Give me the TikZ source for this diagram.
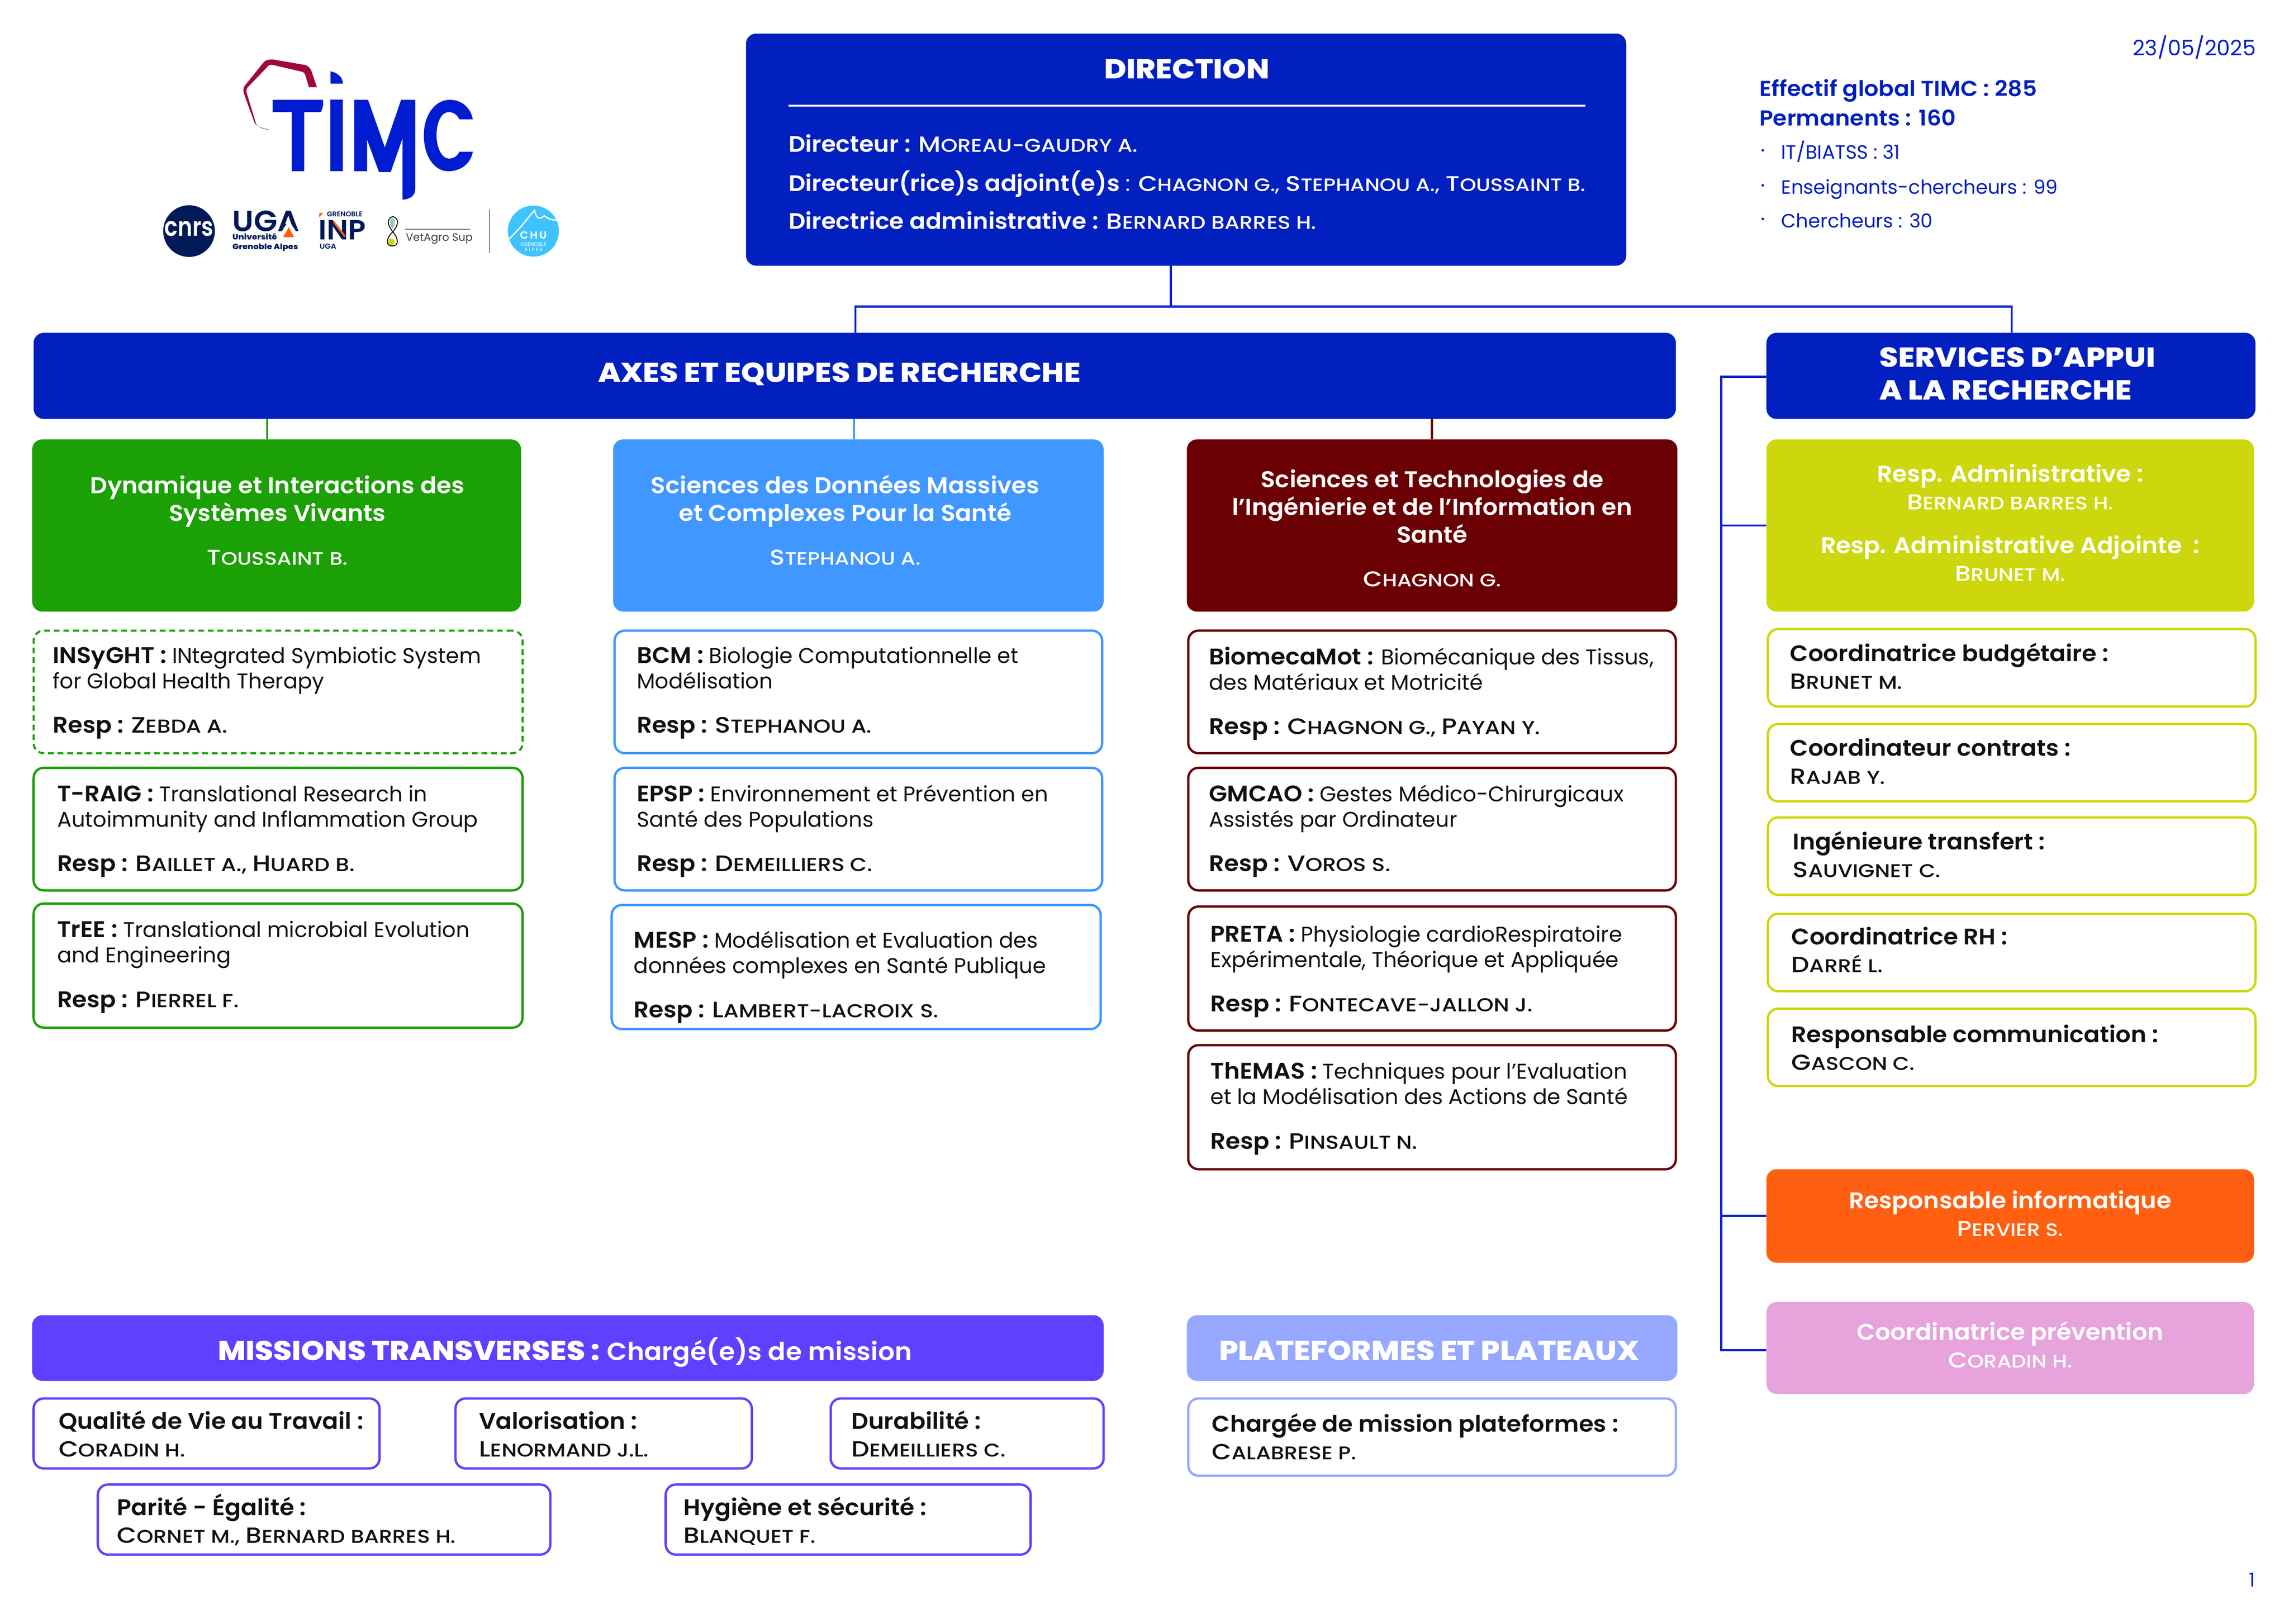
\documentclass[tikz,border=0pt]{standalone}
\usepackage{fontspec}
\setmainfont{Poppins}[BoldFont={Poppins SemiBold}]
\newfontfamily\fxb{Poppins ExtraBold}[FakeStretch=1.1]
\newfontfamily\fsb{Poppins SemiBold}[FakeStretch=1.05]
\newfontfamily\fmd{Poppins Medium}[FakeStretch=1.16]
\definecolor{dirblue}{HTML}{021FBF}
\definecolor{conblue}{HTML}{0A1FD0}
\definecolor{logoblue}{HTML}{001CD1}
\definecolor{logored}{HTML}{A0063F}
\definecolor{navy}{HTML}{001A57}
\definecolor{gGreen}{HTML}{1BA005}
\definecolor{gBlue}{HTML}{3F97FF}
\definecolor{gRed}{HTML}{6B0004}
\definecolor{gYel}{HTML}{CCD80D}
\definecolor{gOra}{HTML}{FF5F11}
\definecolor{gPink}{HTML}{E6A3DC}
\definecolor{gPur}{HTML}{5F40FF}
\definecolor{gPeri}{HTML}{96A8FF}
\definecolor{chu}{HTML}{3FC3FF}
\definecolor{ink}{HTML}{111111}
\def\bscale{1}
\def\nmsize{15}
\makeatletter
\renewcommand\textbf[1]{{\fsb\fontsize{\fpeval{\bscale*\f@size}}{\f@baselineskip}\selectfont #1}}
\newcommand\nm[2]{{\fmd\fontsize{\nmsize}{\f@baselineskip}\selectfont #1\fontsize{\fpeval{0.84*\nmsize}}{\f@baselineskip}\selectfont #2}}
\makeatother
\tikzset{
  boxbase/.style={rectangle,rounded corners=7pt,inner sep=0pt,outer sep=0pt},
  solidb/.style={boxbase,fill=#1},
  lineb/.style={boxbase,draw=#1,line width=1.6pt,fill=white},
  dashb/.style={boxbase,draw=#1,line width=1.4pt,fill=white,dash pattern=on 4pt off 2.6pt},
  body/.style={font=\def\bscale{1.06}\def\nmsize{15.3}\fontsize{14.6}{17.4}\selectfont,text=ink,align=left,anchor=base west,inner sep=0pt},
  two/.style={font=\def\bscale{1.03}\def\nmsize{15}\fontsize{15}{19}\selectfont,text=ink,align=left,anchor=base west,inner sep=0pt},
  head/.style={font=\def\nmsize{14.7}\fontsize{15.6}{19}\selectfont,text=white,align=center,anchor=base,inner sep=0pt},
  dline/.style={font=\def\bscale{1.01}\def\nmsize{15}\fontsize{15.2}{15.2}\selectfont,text=white,anchor=base west,inner sep=0pt},
  title/.style={font=\fxb\fontsize{18.8}{20}\selectfont,text=white,inner sep=0pt,anchor=base},
  infoline/.style={font=\fontsize{13.2}{13.2}\selectfont,text=dirblue,anchor=base west,inner sep=0pt},
  conn/.style={line width=1.5pt,draw=conblue},
}
\newcommand\bx[6]{%
  \pgfmathsetmacro\bw{#5-#3}\pgfmathsetmacro\bh{#6-#4}%
  \pgfmathsetmacro\bcx{(#3+#5)/2}\pgfmathsetmacro\bcy{(#4+#6)/2}%
  \node[#1,minimum width=\bw pt,minimum height=\bh pt] (#2) at (\bcx,\bcy) {};}
\newcommand\tx[5]{\node[#1] (#2) at (#3,{#4+1}) {#5};}
\begin{document}
\begin{tikzpicture}[x=1pt,y=-1pt]
\useasboundingbox (0,0) rectangle (1568,1112.5);
% ---------- logo
\begin{scope}[shift={(94.7,25.25)},x=0.2023pt,y=-0.1052pt]
\fill[logored] (605,328) -- (585,215) .. controls (575,185) and (565,182) .. (555,180) -- (455,147)
  .. controls (438,147) and (430,155) .. (425,165) -- (360,320) .. controls (355,340) and (355,350) .. (358,370)
  -- (390,540) .. controls (395,580) and (410,590) .. (445,605) -- (440,605) .. controls (415,595) and (402,585) .. (398,560)
  -- (368,370) .. controls (364,345) and (366,335) .. (375,320) -- (440,190) .. controls (445,182) and (450,180) .. (458,184)
  -- (550,225) .. controls (560,230) and (563,235) .. (565,245) -- (578,328) -- cycle;
\fill[logoblue] (455,410) -- (625,410) .. controls (628,440) and (625,465) .. (618,490) -- (562,490) -- (562,875) -- (520,875) -- (520,490) -- (455,490) -- cycle;
\fill[logoblue] (651,408) rectangle (693,875);
\fill[logoblue] (651,225) .. controls (675,232) and (693,265) .. (693,305) -- (651,305) -- cycle;
\fill[logoblue] (731,410) -- (778,410) -- (835,720) -- (890,410) -- (938,410) -- (938,990)
  .. controls (938,1035) and (920,1058) .. (895,1060) -- (895,660) -- (855,880) -- (815,880) -- (775,670) -- (775,875) -- (731,875) -- cycle;
\fill[logoblue] (1133,537) -- (1087,537) .. controls (1080,505) and (1065,490) .. (1052,490)
  .. controls (1025,490) and (1010,560) .. (1010,640) .. controls (1010,730) and (1030,793) .. (1052,793)
  .. controls (1068,793) and (1082,775) .. (1087,748) -- (1133,748) .. controls (1125,830) and (1090,875) .. (1050,875)
  .. controls (1000,875) and (967,770) .. (967,640) .. controls (967,510) and (1005,410) .. (1055,410)
  .. controls (1095,410) and (1125,460) .. (1133,537) -- cycle;
% cnrs
\node[circle,fill=navy,minimum size=35.4pt,inner sep=0pt] (cnrs) at (172,1265) {};
\node[text=white,inner sep=0pt,font=\fsb\fontsize{18}{18}\selectfont,xscale=0.8] (cnrst) at (172,1250) {cnrs};
% UGA
\node[text=navy,inner sep=0pt,anchor=base west,font=\fsb\fontsize{20}{20}\selectfont] (uga) at (318,1268) {UGA};
\fill[white] (510,1195) -- (540,1285) -- (480,1285) -- cycle;
\fill[gOra] (510,1240) -- (528,1305) -- (490,1305) -- cycle;
\node[text=navy,inner sep=0pt,anchor=base west,font=\fxb\fontsize{5.2}{6.6}\selectfont,align=left] (ugat) at (318,1385) {Université\\Grenoble Alpes};
% INP
\node[text=navy,inner sep=0pt,anchor=base west,font=\bfseries\fontsize{4.8}{5}\selectfont] (inpg) at (638,1172) {GRENOBLE};
\fill[gOra] (613,1175) -- (613,1146) -- (626,1146) -- cycle;
\node[text=navy,inner sep=0pt,anchor=base west,font=\fsb\fontsize{19}{19}\selectfont] (inp) at (610,1322) {INP};
\draw[gOra,line width=1.3pt] (662,1205) -- (700,1300);
\node[text=navy,inner sep=0pt,anchor=base west,font=\fsb\fontsize{5}{5.5}\selectfont] (inpu) at (613,1382) {UGA};
% VetAgro
\draw[black,line width=0.6pt] (862,1170) .. controls (835,1190) and (850,1240) .. (862,1270) .. controls (880,1310) and (885,1360) .. (860,1362)
  .. controls (835,1360) and (840,1310) .. (862,1270) .. controls (875,1240) and (890,1190) .. (862,1170) -- cycle;
\fill[chu!40!gray!60] (860,1180) .. controls (850,1190) and (850,1230) .. (860,1250) .. controls (870,1230) and (875,1190) .. (860,1180) -- cycle;
\node[circle,fill=gYel,minimum size=4.6pt,inner sep=0pt] (vetdot) at (857,1335) {};
\draw[gray,line width=0.8pt] (904,1253) -- (1124,1253);
\node[text=ink!80,inner sep=0pt,anchor=base west,font=\fontsize{7.4}{8}\selectfont] (vet) at (905,1330) {VetAgro Sup};
\draw[gray,line width=0.6pt] (1190,1125) -- (1190,1405);
% CHU
\node[circle,fill=chu,minimum size=35pt,inner sep=0pt] (chuc) at (1338,1265) {};
\draw[white,line width=0.9pt,line cap=round] (1250,1325) .. controls (1290,1260) and (1330,1150) .. (1342,1130) .. controls (1348,1190) and (1360,1190) .. (1375,1165) .. controls (1385,1180) and (1400,1200) .. (1425,1190);
\node[text=white,inner sep=0pt,font=\fsb\fontsize{7}{7}\selectfont] (chut) at (1338,1292) {C\,H\,U};
\node[text=white,inner sep=0pt,font=\fontsize{3.6}{4}\selectfont] (chug) at (1338,1350) {GRENOBLE};
\node[text=white,inner sep=0pt,font=\fontsize{3.2}{4}\selectfont] (chua) at (1338,1385) {A L P E S};
\end{scope}
% ---------- top right
\tx{font=\fontsize{14.6}{14.6}\selectfont,text=conblue,anchor=base east,inner sep=0pt}{date}{1545.5}{37}{23/05/2025}
\tx{font=\def\bscale{1.01}\fontsize{14.6}{20}\selectfont,text=dirblue,align=left,anchor=base west,inner sep=0pt}{eff}{1205}{85}{\textbf{Effectif global TIMC : 285}\\\textbf{Permanents : 160}}
\tx{infoline}{ef1}{1220}{108}{IT/BIATSS : 31}
\tx{infoline}{ef2}{1220}{132}{Enseignants-chercheurs : 99}
\tx{infoline}{ef3}{1220}{155}{Chercheurs : 30}
\foreach \yy in {103,127,150} \fill[dirblue] (1207.5,\yy) circle (0.9pt);
\tx{font=\fontsize{13}{13}\selectfont,text=conblue,anchor=base east,inner sep=0pt}{pg}{1545}{1086}{1}
% ---------- boxes
\bx{solidb=dirblue}{direction}{511}{23}{1114}{182}
\bx{solidb=dirblue}{axes}{23}{228}{1148}{287}
\bx{solidb=dirblue}{services}{1210}{228}{1545}{287}
\bx{solidb=gGreen}{hgreen}{22}{301}{357}{419}
\bx{solidb=gBlue}{hblue}{420}{301}{756}{419}
\bx{solidb=gRed}{hred}{813}{301}{1149}{419}
\bx{solidb=gYel}{hyel}{1210}{301}{1544}{419}
\bx{solidb=gOra}{hora}{1210}{801}{1544}{865}
\bx{solidb=gPink}{hpink}{1210}{892}{1544}{955}
\bx{solidb=gPur}{missions}{22}{901}{756}{946}
\bx{solidb=gPeri}{plateformes}{813}{901}{1149}{946}
\bx{dashb=gGreen}{insyght}{23}{432}{358}{516}
\bx{lineb=gGreen}{traig}{23}{526}{358}{610}
\bx{lineb=gGreen}{tree}{23}{619}{358}{704}
\bx{lineb=gBlue}{bcm}{421}{432}{755}{516}
\bx{lineb=gBlue}{epsp}{421}{526}{755}{610}
\bx{lineb=gBlue}{mesp}{419}{620}{754}{705}
\bx{lineb=gRed}{biomeca}{814}{432}{1148}{516}
\bx{lineb=gRed}{gmcao}{814}{526}{1148}{610}
\bx{lineb=gRed}{preta}{814}{621}{1148}{706}
\bx{lineb=gRed}{themas}{814}{716}{1148}{801}
\bx{lineb=gYel}{budget}{1211}{431}{1545}{484}
\bx{lineb=gYel}{contrats}{1211}{496}{1545}{549}
\bx{lineb=gYel}{transfert}{1211}{560}{1545}{613}
\bx{lineb=gYel}{rh}{1211}{626}{1545}{679}
\bx{lineb=gYel}{comm}{1211}{691}{1545}{744}
\bx{lineb=gPur}{qvt}{23}{958}{260}{1006}
\bx{lineb=gPur}{valo}{312}{958}{515}{1006}
\bx{lineb=gPur}{dura}{569}{958}{756}{1006}
\bx{lineb=gPur}{parite}{67}{1017}{377}{1065}
\bx{lineb=gPur}{hygiene}{456}{1017}{706}{1065}
\bx{lineb=gPeri}{charge}{814}{958}{1148}{1011}
% ---------- connectors
\coordinate (busJ) at (802,210);
\coordinate (busL) at (586,210);
\coordinate (busR) at (1378,210);
\coordinate (sideT) at (1179,258);
\coordinate (sideB) at (1179,925);
\coordinate (cg) at (183,287);
\coordinate (cb) at (585,287);
\coordinate (cr) at (981,287);
\draw[conn] (direction.south -| busJ) -- (busJ);
\draw[conn] (axes.north -| busL) -- (busL) -- (busR) -- (services.north -| busR);
\draw[conn,draw=gGreen] (cg) -- (hgreen.north -| cg);
\draw[conn,draw=gBlue] (cb) -- (hblue.north -| cb);
\draw[conn,draw=gRed] (cr) -- (hred.north -| cr);
\draw[conn] (services.west |- sideT) -- (sideT) -- (sideB) -- (hpink.west |- sideB);
\draw[conn] (sideT |- hyel.west) -- (hyel.west);
\draw[conn] (sideT |- hora.west) -- (hora.west);
% ---------- texts: direction
\tx{title}{tdir}{813}{53}{DIRECTION}
\draw[white,line width=1.3pt] (540,72.5) coordinate (ra) -- (1086,72.5) coordinate (rb);
\tx{dline}{d1}{540}{103}{\textbf{Directeur :} \nm{M}{OREAU-GAUDRY A.}}
\tx{dline}{d2}{540}{130}{\textbf{Directeur(rice)s adjoint(e)s} : {\def\nmsize{14.6}\nm{C}{HAGNON G.,} \nm{S}{TEPHANOU A.,} \nm{T}{OUSSAINT B.}}}
\tx{dline}{d3}{540}{156}{\textbf{Directrice administrative :} \nm{B}{ERNARD BARRES H.}}
% headers
\tx{title}{taxes}{575}{261}{AXES ET EQUIPES DE RECHERCHE}
\tx{title,font=\fxb\fontsize{18.8}{22.5}\selectfont,align=left}{tserv}{1382}{273}{SERVICES D’APPUI\\A LA RECHERCHE}
\tx{head}{tg}{190}{386}{\textbf{Dynamique et Interactions des}\\\textbf{Systèmes Vivants}\\[11pt]\nm{T}{OUSSAINT B.}}
\tx{head}{tb}{579}{386}{\textbf{Sciences des Données Massives}\\\textbf{et Complexes Pour la Santé}\\[11pt]\nm{S}{TEPHANOU A.}}
\tx{head}{tr}{981}{401}{\textbf{Sciences et Technologies de}\\\textbf{l’Ingénierie et de l’Information en}\\\textbf{Santé}\\[11pt]\nm{C}{HAGNON G.}}
\tx{head}{ty}{1377}{397}{\textbf{Resp. Administrative :}\\\nm{B}{ERNARD BARRES H.}\\[11pt]\textbf{Resp. Administrative Adjointe~ :}\\\nm{B}{RUNET M.}}
\tx{head}{to}{1377}{846}{\textbf{Responsable informatique}\\\nm{P}{ERVIER S.}}
\tx{head}{tp}{1377}{936}{\textbf{Coordinatrice prévention}\\\nm{C}{ORADIN H.}}
% green column
\tx{body}{t1}{36}{501}{\textbf{INSyGHT :} INtegrated Symbiotic System\\for Global Health Therapy\\[13pt]\textbf{Resp :} \nm{Z}{EBDA A.}}
\tx{body}{t2}{39}{596}{\textbf{T-RAIG :} Translational Research in\\Autoimmunity and Inflammation Group\\[13pt]\textbf{Resp :} \nm{B}{AILLET A.,} \nm{H}{UARD B.}}
\tx{body}{t3}{39}{689}{\textbf{TrEE :} Translational microbial Evolution\\and Engineering\\[13pt]\textbf{Resp :} \nm{P}{IERREL F.}}
% blue column
\tx{body}{t4}{436}{501}{\textbf{BCM :} Biologie Computationnelle et\\Modélisation\\[13pt]\textbf{Resp :} \nm{S}{TEPHANOU A.}}
\tx{body}{t5}{436}{596}{\textbf{EPSP :} Environnement et Prévention en\\Santé des Populations\\[13pt]\textbf{Resp :} \nm{D}{EMEILLIERS C.}}
\tx{body}{t6}{434}{696}{\textbf{MESP :} Modélisation et Evaluation des\\données complexes en Santé Publique\\[13pt]\textbf{Resp :} \nm{L}{AMBERT-LACROIX S.}}
% red column
\tx{body}{t7}{828}{502}{\textbf{BiomecaMot :} Biomécanique des Tissus,\\des Matériaux et Motricité\\[13pt]\textbf{Resp :} \nm{C}{HAGNON G.,} \nm{P}{AYAN Y.}}
\tx{body}{t8}{828}{596}{\textbf{GMCAO :} Gestes Médico-Chirurgicaux\\Assistés par Ordinateur\\[13pt]\textbf{Resp :} \nm{V}{OROS S.}}
\tx{body}{t9}{829}{692}{\textbf{PRETA :} Physiologie cardioRespiratoire\\Expérimentale, Théorique et Appliquée\\[13pt]\textbf{Resp :} \nm{F}{ONTECAVE-JALLON J.}}
\tx{body}{t10}{829}{786}{\textbf{ThEMAS :} Techniques pour l’Evaluation\\et la Modélisation des Actions de Santé\\[13pt]\textbf{Resp :} \nm{P}{INSAULT N.}}
% services
\tx{two}{t11}{1226}{471}{\textbf{Coordinatrice budgétaire :}\\\nm{B}{RUNET M.}}
\tx{two}{t12}{1226}{536}{\textbf{Coordinateur contrats :}\\\nm{R}{AJAB Y.}}
\tx{two}{t13}{1228}{600}{\textbf{Ingénieure transfert :}\\\nm{S}{AUVIGNET C.}}
\tx{two}{t14}{1227}{665}{\textbf{Coordinatrice RH :}\\\nm{D}{ARRÉ L.}}
\tx{two}{t15}{1227}{732}{\textbf{Responsable communication :}\\\nm{G}{ASCON C.}}
% missions
\tx{font=\fontsize{18.5}{20}\selectfont,text=white,inner sep=0pt,anchor=base}{tm}{387}{931}{{\fxb\fontsize{18.6}{20}\selectfont MISSIONS TRANSVERSES :} {\fsb\fontsize{17}{20}\selectfont Chargé(e)s de mission}}
\tx{title}{tpl}{979}{931}{PLATEFORMES ET PLATEAUX}
\tx{two}{t16}{40}{997}{\textbf{Qualité de Vie au Travail :}\\\nm{C}{ORADIN H.}}
\tx{two}{t17}{328}{997}{\textbf{Valorisation :}\\\nm{L}{ENORMAND J.L.}}
\tx{two}{t18}{583}{997}{\textbf{Durabilité :}\\\nm{D}{EMEILLIERS C.}}
\tx{two}{t19}{80}{1056}{\textbf{Parité - Égalité :}\\\nm{C}{ORNET M.,} \nm{B}{ERNARD BARRES H.}}
\tx{two}{t20}{468}{1056}{\textbf{Hygiène et sécurité :}\\\nm{B}{LANQUET F.}}
\tx{two}{t21}{830}{999}{\textbf{Chargée de mission plateformes :}\\\nm{C}{ALABRESE P.}}
\end{tikzpicture}
\end{document}
